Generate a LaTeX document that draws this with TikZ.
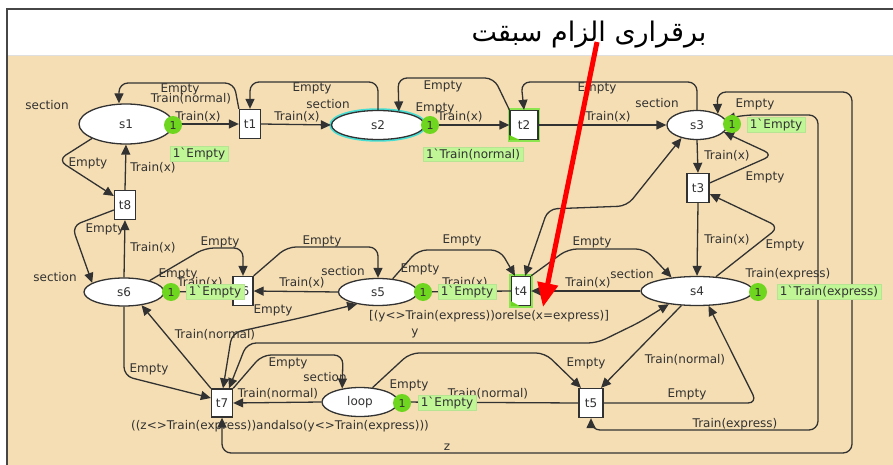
\documentclass[tikz,border=0pt]{standalone}
\usepackage{fontspec}
\usetikzlibrary{arrows.meta,shapes.geometric}
\TeXXeTstate=1
\newfontfamily\cpnfont[Ligatures=TeXOff]{DejaVu Sans}
\newfontfamily\arabicfont[Script=Arabic]{DejaVu Sans}
\definecolor{paper}{RGB}{245,222,179}
\definecolor{ink}{RGB}{50,50,50}
\definecolor{frame}{RGB}{70,70,70}
\definecolor{tokengreen}{RGB}{110,214,30}
\definecolor{markfill}{RGB}{192,246,150}
\definecolor{glowgreen}{RGB}{140,228,80}
\definecolor{glowcyan}{RGB}{70,222,212}
\tikzset{
  cpn/.style={font=\cpnfont\fontsize{12}{14}\selectfont, text=ink},
  place/.style={cpn, ellipse, draw=ink, fill=white, line width=1.3pt, inner sep=0pt},
  trans/.style={cpn, rectangle, draw=ink, fill=white, line width=1.3pt, inner sep=0pt},
  enabled/.style={preaction={draw=glowgreen, line width=4.5pt}},
  selected/.style={preaction={draw=glowcyan, line width=4.5pt}},
  arc/.style={draw=ink, line width=1.3pt, rounded corners=9pt,
              -{Triangle[length=10pt,width=9pt]}},
  both/.style={arc, {Triangle[length=10pt,width=9pt]}-{Triangle[length=10pt,width=9pt]}},
  lbl/.style={cpn, inner sep=0pt},
  token/.style={circle, fill=tokengreen, minimum size=18pt, inner sep=0pt,
                font=\cpnfont\fontsize{11}{12}\selectfont, text=ink},
  marking/.style={cpn, fill=markfill, draw=markfill!85!gray, line width=0.6pt,
                  inner xsep=3pt, inner ysep=1.5pt},
}
\begin{document}
\begin{tikzpicture}[x=1pt,y=-1pt]
\useasboundingbox (0,0) rectangle (893,465);
% page and panel
\fill[white] (0,0) rectangle (893,465);
\fill[paper] (8,56) rectangle (893,465);
\draw[gray!25, line width=1pt] (8,56) -- (893,56);
\draw[frame, line width=1.6pt] (893,9) -- (7,9) -- (7,465);

% places
\node[place, minimum width=94pt, minimum height=40pt] (s1) at (126,124) {s1};
\node[place, selected, minimum width=93pt, minimum height=29pt] (s2) at (378,125) {s2};
\node[place, minimum width=60pt, minimum height=29pt] (s3) at (697,125) {s3};
\node[place, minimum width=112pt, minimum height=29pt] (s4) at (697,291) {s4};
\node[place, minimum width=79pt, minimum height=27pt] (s5) at (378,292) {s5};
\node[place, minimum width=80pt, minimum height=28pt] (s6) at (124,292) {s6};
\node[place, minimum width=76pt, minimum height=29pt] (loop) at (360,402) {loop};

% transitions
\node[trans, minimum width=21pt, minimum height=29pt] (t1) at (250,124) {t1};
\node[trans, enabled, minimum width=28pt, minimum height=29pt] (t2) at (524,125) {t2};
\node[trans, minimum width=22pt, minimum height=29pt] (t3) at (698,188) {t3};
\node[trans, enabled, minimum width=19pt, minimum height=29pt] (t4) at (521,291) {t4};
\node[trans, minimum width=24pt, minimum height=29pt] (t5) at (591,403) {t5};
\node[trans, minimum width=20pt, minimum height=29pt] (t6) at (243,291) {t6};
\node[trans, minimum width=21pt, minimum height=28pt] (t7) at (222,403) {t7};
\node[trans, minimum width=21pt, minimum height=29pt] (t8) at (125,205) {t8};
% enabled markers in the lower left corner
\fill[tokengreen] (t2.south west) -- ([xshift=11pt]t2.south west) -- ([yshift=5pt]t2.south west) -- cycle;
\fill[tokengreen] (t4.south west) -- ([xshift=9pt]t4.south west) -- ([yshift=5pt]t4.south west) -- cycle;

% arcs, top row
\draw[arc] (s1.east) -- (t1.west);
\draw[arc] (t1.north west) -- (234,83) -- (119,83) -- ([xshift=-7pt]s1.north);
\draw[arc] (s2.north) -- (378,82) -- (250,82) -- (t1.north);
\draw[arc] (t1.east) -- (s2.west);
\draw[arc] (s2.east) -- (t2.west);
\draw[arc] (t2.north west) -- (494,78) -- (398,78) -- (s2.33);
\draw[arc] (s3.north) -- (697,82) -- (521,82) -- (t2.north);
\draw[arc] (t2.east) -- (s3.west);
% s3 / t3 / s4
\draw[arc] (s3.south) -- (t3.north);
\draw[arc] ([yshift=5pt]t3.east) -- (773,155) -- (s3.-15);
\draw[arc] (s4.37) -- (779,227) -- ([yshift=-6pt]t3.east);
\draw[arc] (t3.south) -- (s4.north);
\draw[both] (s3.28) -- (717,92) -- (852,92) -- (852,453) -- (222,453) -- (t7.south);
\draw[both] (t5.south) -- (591,430) -- (818,430) -- (818,115) -- (745,115) -- (s3.12);
\draw[both] (s3.-140) -- (627,206) -- (548,209) -- ([xshift=4pt]t4.north);
% middle row
\draw[arc] (t4.north east) -- (568,249) -- (645,249) -- (s4.152);
\draw[arc] (s4.west) -- (t4.east);
\draw[arc] (s5.42) -- (418,250) -- (500,250) -- ([xshift=-6pt]t4.north);
\draw[arc] (t4.west) -- (s5.east);
\draw[arc] (s5.west) -- (t6.east);
\draw[arc] (t6.north east) -- (287,247) -- (378,247) -- (s5.north);
\draw[arc] (s6.24) -- (205,248) -- (243,248) -- (t6.north);
\draw[arc] (s6.east) -- (t6.west);
% left column
\draw[arc] (t8.north) -- (s1.south);
\draw[arc] (s1.-157) -- (58,160) -- ([yshift=9pt]t8.west);
\draw[arc] ([yshift=-5pt]t8.west) -- (72,226) -- (s6.164);
\draw[arc] (s6.north) -- (t8.south);
% bottom row
\draw[arc] (t7.north west) -- (s6.-37);
\draw[arc] (s6.south) -- (124,376) -- ([yshift=5pt]t7.west);
\draw[both] ([xshift=1pt]t7.north) -- (232,333) -- (300,318) -- (s5.-150);
\draw[both] ([xshift=7pt]t7.north) -- (247,343) -- (597,343) -- (640,322) -- (s4.-155);
\draw[arc] (loop.west) -- (t7.east);
\draw[arc] (t7.north east) -- (262,355) -- (343,355) -- (loop.143);
\draw[arc] (loop.49) -- (410,353) -- (545,353) -- ([xshift=-10pt]t5.north);
\draw[arc] (t5.west) -- (loop.east);
\draw[arc] (s4.-137) -- ([xshift=10pt]t5.north);
\draw[arc] (t5.east) -- (757,403) -- (s4.-52);

% inscriptions
\foreach \x/\y [count=\i] in {47/105, 328/104, 657/103, 632/274, 343/271, 55/277, 325/377}
  \node[lbl] (sec\i) at (\x,\y) {section};
\foreach \x/\y [count=\i] in {180/89, 312/88, 443/86, 435/108, 597/88, 755/104, 765/177,
    785/245, 88/163, 105/229, 220/242, 178/274, 273/310, 322/241, 462/240, 420/269,
    592/242, 149/369, 288/363, 409/385, 586/363, 687/394}
  \node[lbl] (emp\i) at (\x,\y) {Empty};
\foreach \x/\y [count=\i] in {198/117, 297/117, 460/117, 608/117, 727/156, 727/240,
    153/168, 153/248, 200/283, 302/283, 465/283, 588/283}
  \node[lbl] (trx\i) at (\x,\y) {Train(x)};
\foreach \x/\y [count=\i] in {191/99, 215/335, 278/394, 488/394, 685/360}
  \node[lbl] (trn\i) at (\x,\y) {Train(normal)};
\foreach \x/\y [count=\i] in {788/274, 735/424}
  \node[lbl] (tre\i) at (\x,\y) {Train(express)};
\node[lbl] (vary) at (415,333) {y};
\node[lbl] (varz) at (447,447) {z};
\node[lbl] (guard4) at (489,316) {[(y<>Train(express))orelse(x=express)]};
\node[lbl] (guard7) at (280,426) {((z<>Train(express))andalso(y<>Train(express)))};

% current markings
\node[token] (k1) at (173,125) {1};
\node[token] (k2) at (430,125) {1};
\node[token] (k3) at (732,124) {1};
\node[token] (k4) at (758,292) {1};
\node[token] (k5) at (423,292) {1};
\node[token] (k6) at (171,292) {1};
\node[token] (k7) at (402,403) {1};
\node[marking] (m1) at (199,154) {1`Empty};
\node[marking] (m2) at (473,154) {1`Train(normal)};
\node[marking] (m3) at (776,125) {1`Empty};
\node[marking] (m4) at (829,292) {1`Train(express)};
\node[marking] (m5) at (467,292) {1`Empty};
\node[marking] (m6) at (215,292) {1`Empty};
\node[marking] (m7) at (447,403) {1`Empty};

% heading and pointer
\node[inner sep=0pt, text=black] (title) at (589,35)
  {\arabicfont\fontsize{27}{32}\selectfont\beginR برقراری الزام سبقت\endR};
\coordinate (ptail) at (597,42);
\coordinate (ptip) at (543,307);
\draw[red, line width=5pt, -{Triangle[length=24pt,width=20pt]}] (ptail) -- (ptip);
\end{tikzpicture}
\end{document}
